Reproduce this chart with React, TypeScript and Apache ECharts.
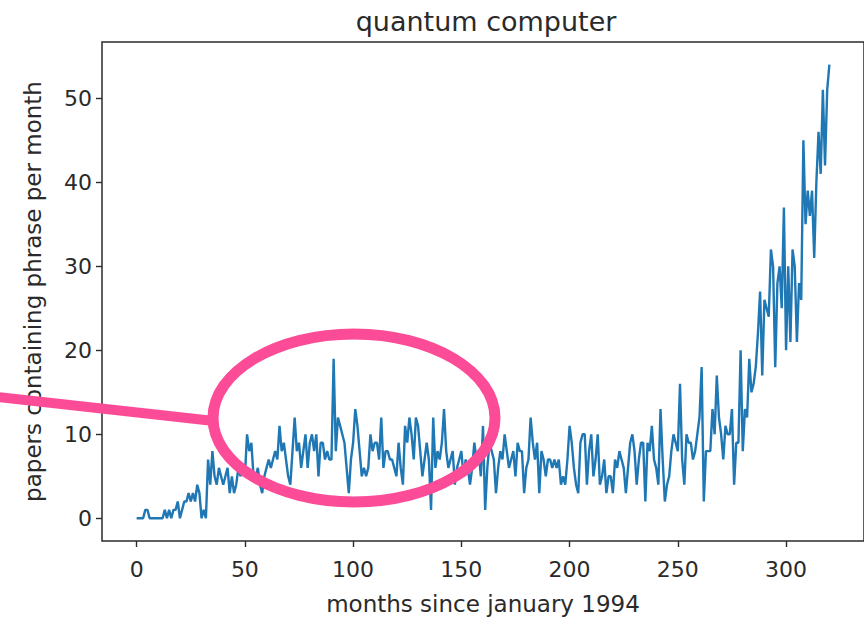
import React, { useEffect, useRef } from "react";
import * as echarts from "echarts";

// papers per month, months since january 1994
const values1994to1997: number[] = [
  0, 0, 0, 0, 1, 1, 0, 0, 0, 0,
  0, 0, 0, 1, 0, 1, 0, 1, 1, 2,
  0, 1, 2, 2, 3, 2, 3, 2, 4, 3,
  0, 1, 0, 7, 4, 8, 5, 4, 6, 5,
  4, 5, 6, 3, 5, 3, 4, 6, 5, 6,
];
const values1998to2001: number[] = [
  5, 10, 8, 9, 5, 5, 6, 4, 3, 5,
  6, 7, 6, 7, 8, 7, 11, 8, 9, 7,
  5, 4, 8, 12, 8, 9, 6, 8, 10, 6,
  9, 10, 8, 10, 5, 9, 9, 7, 8, 7,
  7, 19, 8, 12, 11, 10, 9, 6, 3, 7,
];
const values2002to2005: number[] = [
  9, 13, 11, 8, 5, 6, 5, 6, 10, 8,
  9, 9, 7, 12, 6, 8, 8, 7, 7, 6,
  5, 9, 6, 4, 11, 9, 12, 10, 7, 12,
  11, 8, 5, 7, 9, 7, 1, 12, 6, 8,
  7, 9, 13, 8, 6, 7, 8, 4, 6, 7,
];
const values2006to2009: number[] = [
  8, 5, 7, 6, 4, 6, 9, 7, 8, 5,
  11, 1, 6, 9, 8, 7, 3, 6, 8, 7,
  10, 8, 6, 7, 8, 5, 9, 8, 8, 3,
  6, 7, 12, 9, 7, 9, 3, 8, 7, 5,
  7, 7, 6, 7, 6, 7, 4, 5, 4, 7,
];
const values2010to2014: number[] = [
  11, 9, 6, 4, 3, 9, 10, 10, 4, 8,
  10, 5, 7, 10, 4, 5, 7, 3, 5, 5,
  3, 7, 6, 8, 7, 6, 3, 6, 9, 10,
  8, 4, 7, 9, 9, 2, 9, 8, 11, 7,
  6, 4, 13, 7, 2, 4, 5, 8, 10, 9,
  8, 16, 7, 4, 10, 9, 9, 7, 8, 10,
];
const values2015to2020: number[] = [
  12, 18, 2, 8, 8, 8, 13, 10, 17, 12,
  10, 7, 11, 10, 10, 13, 4, 9, 9, 20,
  8, 13, 12, 19, 15, 16, 18, 22, 27, 17,
  26, 25, 24, 32, 30, 18, 28, 30, 25, 37,
  20, 30, 21, 32, 30, 21, 28, 26, 45, 35,
  39, 36, 39, 31, 40, 46, 41, 51, 42, 51, 54,
];

const xTickValues: number[] = [0, 50, 100, 150, 200, 250, 300];
const yTickValues: number[] = [0, 10, 20, 30, 40, 50];

const titleText = "quantum computer";
const xAxisTitle = "months since january 1994";
const yAxisTitle = "papers containing phrase per month";

const FONT = "DejaVu Sans";
const TEXT = "#2a2a2a";
const AXIS = "#2b2b2b";

export default function App() {
  const ref = useRef<HTMLDivElement>(null);

  useEffect(() => {
    document.body.style.margin = "0";
    if (!ref.current) return;
    const chart = echarts.init(ref.current, undefined, { renderer: "svg" });
    const values = [
      ...values1994to1997,
      ...values1998to2001,
      ...values2002to2005,
      ...values2006to2009,
      ...values2010to2014,
      ...values2015to2020,
    ];
    const data = values.map((v, i) => [i, v]);

    chart.setOption({
      animation: false,
      backgroundColor: "#ffffff",
      title: {
        text: titleText,
        left: 481,
        top: 3,
        textAlign: "center",
        textStyle: { fontFamily: FONT, fontSize: 27, fontWeight: "normal", color: TEXT },
      },
      grid: {
        left: 102,
        top: 42,
        width: 771,
        height: 503,
        show: true,
        borderColor: AXIS,
        borderWidth: 1.5,
        backgroundColor: "transparent",
      },
      xAxis: {
        type: "value",
        min: -16,
        max: 336,
        axisLine: { show: false, onZero: false },
        splitLine: { show: false },
        axisTick: {
          show: true,
          length: 6,
          customValues: xTickValues,
          lineStyle: { color: AXIS, width: 1.4 },
        },
        axisLabel: {
          customValues: xTickValues,
          fontFamily: FONT,
          fontSize: 22,
          color: TEXT,
          margin: 17,
        },
        name: xAxisTitle,
        nameLocation: "middle",
        nameGap: 51,
        nameTextStyle: { fontFamily: FONT, fontSize: 23, color: TEXT },
      },
      yAxis: {
        type: "value",
        min: -2.7,
        max: 56.7,
        axisLine: { show: false, onZero: false },
        splitLine: { show: false },
        axisTick: {
          show: true,
          length: 6,
          customValues: yTickValues,
          lineStyle: { color: AXIS, width: 1.4 },
        },
        axisLabel: {
          customValues: yTickValues,
          fontFamily: FONT,
          fontSize: 22,
          color: TEXT,
          margin: 10,
        },
        name: yAxisTitle,
        nameLocation: "middle",
        nameGap: 58,
        nameTextStyle: { fontFamily: FONT, fontSize: 23, color: TEXT },
      },
      series: [
        {
          type: "line",
          data,
          showSymbol: false,
          symbol: "none",
          lineStyle: { color: "#1f77b4", width: 2.4 },
          itemStyle: { color: "#1f77b4" },
          clip: true,
          z: 2,
        },
      ],
      graphic: [
        {
          type: "line",
          z: 100,
          shape: { x1: -2, y1: 397, x2: 214, y2: 421 },
          style: { stroke: "#fd4c97", lineWidth: 10 },
        },
        {
          type: "ellipse",
          z: 100,
          shape: { cx: 354, cy: 418, rx: 141, ry: 84 },
          style: { fill: "none", stroke: "#fd4c97", lineWidth: 11 },
        },
      ],
    });

    return () => chart.dispose();
  }, []);

  return (
    <div
      ref={ref}
      style={{ position: "absolute", left: 0, top: 0, width: 864, height: 620 }}
    />
  );
}
